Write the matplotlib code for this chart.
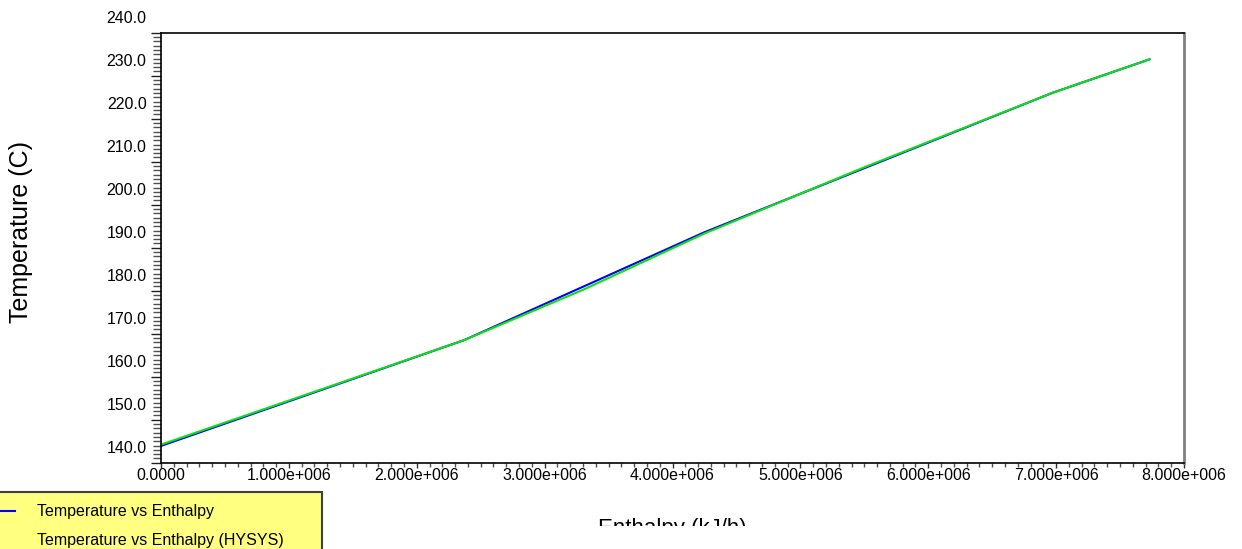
import numpy as np
import matplotlib.pyplot as plt
from matplotlib.lines import Line2D
from matplotlib.ticker import MultipleLocator, FuncFormatter
from matplotlib.transforms import ScaledTranslation, Bbox, TransformedBbox

plt.rcParams['font.family'] = ['Liberation Sans', 'DejaVu Sans']

# Temperature vs Enthalpy curves
enthalpy = [0.0, 2.37e6, 4.25e6, 6.97e6, 7.73e6]
temp = [143.9, 168.5, 193.6, 226.0, 233.8]

enthalpy_hysys = [0.0, 1.2e6, 2.37e6, 3.3e6, 4.25e6, 5.5e6, 6.97e6, 7.73e6]
temp_hysys = [144.2, 156.5, 168.5, 180.2, 193.3, 208.7, 226.0, 233.8]

labels = ["Temperature vs Enthalpy", "Temperature vs Enthalpy (HYSYS)"]

fig = plt.figure(figsize=(12.42, 5.49), dpi=100)
W, H = 1242, 549
ax = fig.add_axes([161 / W, 1 - 462.7 / H, (1184 - 161) / W, (462.7 - 32.7) / H])

ax.plot(enthalpy, temp, color='#0000ff', lw=1.5)
ax.plot(enthalpy_hysys, temp_hysys, color='#10e010', lw=1.5)

ax.set_xlim(0, 8e6)
ax.set_ylim(140, 240)

def xfmt(v, pos):
    if v == 0:
        return "0.0000"
    e = int(np.floor(np.log10(abs(v))))
    return f"{v / 10**e:.3f}e{e:+04d}"

ax.xaxis.set_major_locator(MultipleLocator(1e6))
ax.xaxis.set_minor_locator(MultipleLocator(1e5))
ax.xaxis.set_major_formatter(FuncFormatter(xfmt))
ax.yaxis.set_major_locator(MultipleLocator(10))
ax.yaxis.set_minor_locator(MultipleLocator(1))
ax.yaxis.set_major_formatter(FuncFormatter(lambda v, p: f"{v:.1f}"))

ax.tick_params(axis='x', which='major', direction='out', length=3.6, width=1,
               color='#303030', labelsize=11.5, pad=0.5)
ax.tick_params(axis='x', which='minor', direction='out', length=3, width=1, color='#505050')
ax.tick_params(axis='y', which='major', direction='out', length=7.4, width=1,
               color='#202020', labelsize=11.5, pad=3)
ax.tick_params(axis='y', which='minor', direction='out', length=5.6, width=1, color='#505050')

# y labels sit above their ticks
shift = ScaledTranslation(0, 16 / 100, fig.dpi_scale_trans)
for lab in ax.get_yticklabels():
    lab.set_transform(lab.get_transform() + shift)

for s in ['left', 'top', 'bottom']:
    ax.spines[s].set_color('black')
    ax.spines[s].set_linewidth(1.2)
ax.spines['right'].set_color('#808080')
ax.spines['right'].set_linewidth(2)

ax.set_ylabel("Temperature (C)", fontsize=18)
ax.yaxis.label.set_va('center')
ax.yaxis.set_label_coords(-(161 - 21) / 1023, (462.7 - 232) / 430)

ax.set_xlabel("Enthalpy (kJ/h)", fontsize=16)
ax.xaxis.label.set_va('baseline')
ax.xaxis.set_label_coords(0.5, (462.7 - 534) / 430)
ax.xaxis.label.set_clip_box(TransformedBbox(Bbox([[0, 23 / H], [1, 1]]), fig.transFigure))
ax.xaxis.label.set_clip_on(True)

handles = [Line2D([], [], color='#0000ff', lw=1.5), Line2D([], [], color='none')]
leg = fig.legend(handles, labels, loc='upper left',
                 bbox_to_anchor=(-25 / W, 1 - 491.7 / H - 0.01, (321.7 + 25) / W, 0.01),
                 mode='expand', fontsize=11.5, frameon=True, fancybox=False,
                 facecolor='#ffff80', edgecolor='#404040', framealpha=1,
                 borderpad=0.8, handlelength=1.7, handletextpad=1.4, labelspacing=0.85,
                 borderaxespad=0)
leg.get_frame().set_linewidth(1.5)

fig.savefig("out.png", dpi=100)
